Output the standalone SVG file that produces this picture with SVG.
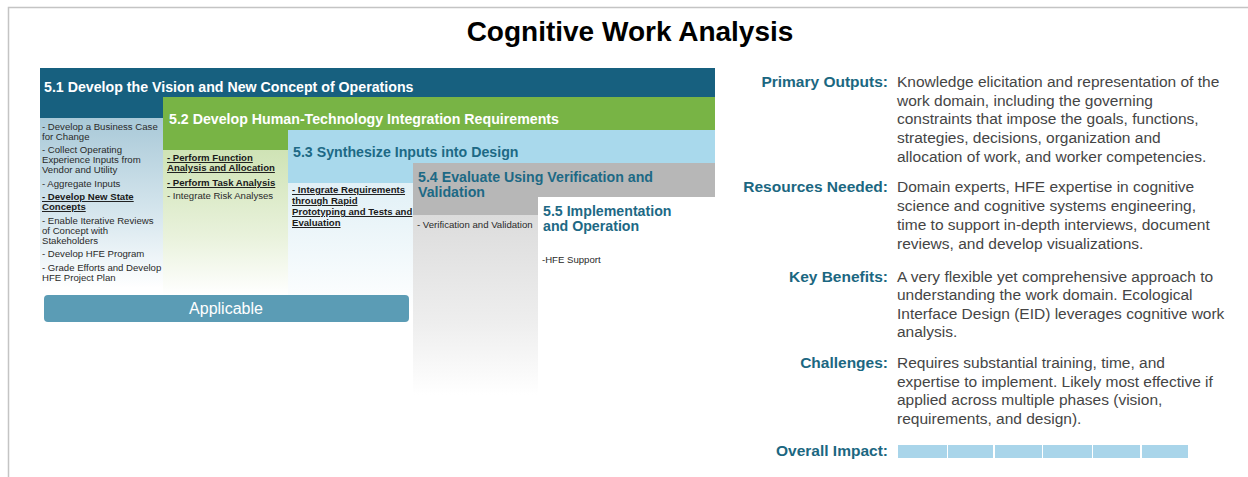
<svg xmlns="http://www.w3.org/2000/svg" width="1248" height="477" viewBox="0 0 1248 477">
<defs>
<style>
.t{font-family:"Liberation Sans",Arial,sans-serif}
.hd{font-family:"Liberation Sans",Arial,sans-serif;font-weight:bold;font-size:14.2px}
.it{font-family:"Liberation Sans",Arial,sans-serif;font-size:9.6px;fill:#2a2a2a}
.itb{font-family:"Liberation Sans",Arial,sans-serif;font-size:9.6px;fill:#1a1a1a;font-weight:bold;text-decoration:underline}
.lb{font-family:"Liberation Sans",Arial,sans-serif;font-weight:bold;font-size:15.5px;fill:#1b6781;text-anchor:end}
.bd{font-family:"Liberation Sans",Arial,sans-serif;font-size:15.5px;fill:#454545}
</style>
<linearGradient id="g1" x1="0" y1="0" x2="0" y2="1">
<stop offset="0" stop-color="#a9c9d8"/><stop offset="0.6" stop-color="#d9e8ef"/><stop offset="1" stop-color="#ffffff"/>
</linearGradient>
<linearGradient id="g2" x1="0" y1="0" x2="0" y2="1">
<stop offset="0" stop-color="#cfe3b5"/><stop offset="0.6" stop-color="#e9f2dc"/><stop offset="1" stop-color="#ffffff"/>
</linearGradient>
<linearGradient id="g3" x1="0" y1="0" x2="0" y2="1">
<stop offset="0" stop-color="#e1f0f6"/><stop offset="1" stop-color="#ffffff"/>
</linearGradient>
<linearGradient id="g4" x1="0" y1="0" x2="0" y2="1">
<stop offset="0" stop-color="#dcdcdc"/><stop offset="0.6" stop-color="#eeeeee"/><stop offset="1" stop-color="#ffffff"/>
</linearGradient>
</defs>
<rect width="1248" height="477" fill="#ffffff"/>
<path d="M8.5 477 V7.5 H1248" fill="none" stroke="#c4c4c4" stroke-width="1.5"/>
<text class="t" x="630" y="41" font-size="28" font-weight="bold" text-anchor="middle" fill="#000">Cognitive Work Analysis</text>

<g id="phase51">
<rect x="40" y="118" width="123" height="170" fill="url(#g1)"/>
<rect x="40" y="68" width="675" height="29" fill="#17607f"/>
<rect x="40" y="97" width="123" height="21" fill="#17607f"/>
<text class="hd" x="44" y="92" fill="#ffffff">5.1 Develop the Vision and New Concept of Operations</text>
<text class="it" x="42" y="130">- Develop a Business Case</text>
<text class="it" x="42" y="140">for Change</text>
<text class="it" x="42" y="153">- Collect Operating</text>
<text class="it" x="42" y="163">Experience Inputs from</text>
<text class="it" x="42" y="173">Vendor and Utility</text>
<text class="it" x="42" y="187">- Aggregate Inputs</text>
<text class="itb" x="42" y="200">- Develop New State</text>
<text class="itb" x="42" y="210">Concepts</text>
<text class="it" x="42" y="224">- Enable Iterative Reviews</text>
<text class="it" x="42" y="234">of Concept with</text>
<text class="it" x="42" y="244">Stakeholders</text>
<text class="it" x="42" y="257">- Develop HFE Program</text>
<text class="it" x="42" y="271">- Grade Efforts and Develop</text>
<text class="it" x="42" y="281">HFE Project Plan</text>
</g>

<g id="phase52">
<rect x="163" y="150" width="125" height="145" fill="url(#g2)"/>
<rect x="163" y="97" width="552" height="33" fill="#78b445"/>
<rect x="163" y="130" width="125" height="20" fill="#78b445"/>
<text class="hd" x="169" y="124" fill="#ffffff">5.2 Develop Human-Technology Integration Requirements</text>
<text class="itb" x="167" y="161">- Perform Function</text>
<text class="itb" x="167" y="171">Analysis and Allocation</text>
<text class="itb" x="167" y="186">- Perform Task Analysis</text>
<text class="it" x="167" y="199">- Integrate Risk Analyses</text>
</g>

<g id="phase53">
<rect x="288" y="183" width="125" height="130" fill="url(#g3)"/>
<rect x="288" y="130" width="427" height="33" fill="#a9d9ec"/>
<rect x="288" y="163" width="125" height="20" fill="#a9d9ec"/>
<text class="hd" x="293" y="157" fill="#1d6985">5.3 Synthesize Inputs into Design</text>
<text class="itb" x="292" y="193">- Integrate Requirements</text>
<text class="itb" x="292" y="204">through Rapid</text>
<text class="itb" x="292" y="215">Prototyping and Tests and</text>
<text class="itb" x="292" y="226">Evaluation</text>
</g>

<g id="phase54">
<rect x="413" y="215" width="125" height="180" fill="url(#g4)"/>
<rect x="413" y="163" width="302" height="34" fill="#b7b7b7"/>
<rect x="413" y="197" width="125" height="18" fill="#b7b7b7"/>
<text class="hd" x="418" y="182" fill="#1d6985">5.4 Evaluate Using Verification and</text>
<text class="hd" x="418" y="197" fill="#1d6985">Validation</text>
<text class="it" x="417" y="228">- Verification and Validation</text>
</g>

<g id="phase55">
<rect x="538" y="197" width="177" height="200" fill="#ffffff"/>
<text class="hd" x="543" y="216" fill="#1d6985">5.5 Implementation</text>
<text class="hd" x="543" y="231" fill="#1d6985">and Operation</text>
<text class="it" x="542" y="263">-HFE Support</text>
</g>

<g id="applicable">
<rect x="44" y="295" width="365" height="27" rx="4" fill="#5b9cb5"/>
<text class="t" x="226" y="314" font-size="16" fill="#ffffff" text-anchor="middle">Applicable</text>
</g>

<g id="connectors"></g>

<g id="primary-outputs">
<text class="lb" x="888" y="87">Primary Outputs:</text>
<text class="bd" x="897" y="87">Knowledge elicitation and representation of the</text>
<text class="bd" x="897" y="106">work domain, including the governing</text>
<text class="bd" x="897" y="124">constraints that impose the goals, functions,</text>
<text class="bd" x="897" y="143">strategies, decisions, organization and</text>
<text class="bd" x="897" y="162">allocation of work, and worker competencies.</text>
</g>
<g id="resources-needed">
<text class="lb" x="888" y="192">Resources Needed:</text>
<text class="bd" x="897" y="192">Domain experts, HFE expertise in cognitive</text>
<text class="bd" x="897" y="211">science and cognitive systems engineering,</text>
<text class="bd" x="897" y="230">time to support in-depth interviews, document</text>
<text class="bd" x="897" y="249">reviews, and develop visualizations.</text>
</g>
<g id="key-benefits">
<text class="lb" x="888" y="282">Key Benefits:</text>
<text class="bd" x="897" y="282">A very flexible yet comprehensive approach to</text>
<text class="bd" x="897" y="300">understanding the work domain. Ecological</text>
<text class="bd" x="897" y="319">Interface Design (EID) leverages cognitive work</text>
<text class="bd" x="897" y="337">analysis.</text>
</g>
<g id="challenges">
<text class="lb" x="888" y="368">Challenges:</text>
<text class="bd" x="897" y="368">Requires substantial training, time, and</text>
<text class="bd" x="897" y="387">expertise to implement. Likely most effective if</text>
<text class="bd" x="897" y="405">applied across multiple phases (vision,</text>
<text class="bd" x="897" y="424">requirements, and design).</text>
</g>
<g id="overall-impact">
<text class="lb" x="888" y="456">Overall Impact:</text>
<g fill="#a9d5ea">
<rect x="898" y="445" width="49" height="13"/>
<rect x="948" y="445" width="45" height="13"/>
<rect x="995" y="445" width="47" height="13"/>
<rect x="1043" y="445" width="49" height="13"/>
<rect x="1093" y="445" width="47" height="13"/>
<rect x="1142" y="445" width="46" height="13"/>
</g>
</g>
</svg>
